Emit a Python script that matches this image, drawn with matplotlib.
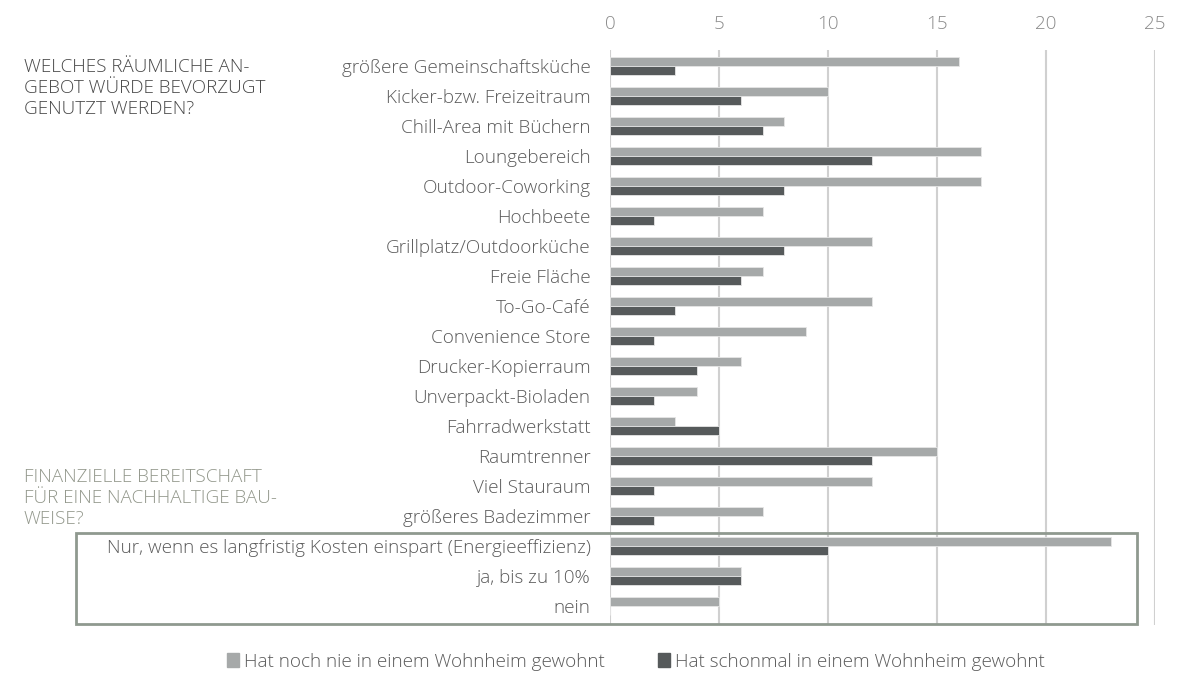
import matplotlib.pyplot as plt
from matplotlib.patches import Rectangle, Patch
import numpy as np

plt.rcParams['font.family'] = ['Open Sans', 'DejaVu Sans']
plt.rcParams['font.weight'] = 'light'

categories = [
    "größere Gemeinschaftsküche", "Kicker-bzw. Freizeitraum", "Chill-Area mit Büchern",
    "Loungebereich", "Outdoor-Coworking", "Hochbeete", "Grillplatz/Outdoorküche",
    "Freie Fläche", "To-Go-Café", "Convenience Store", "Drucker-Kopierraum",
    "Unverpackt-Bioladen", "Fahrradwerkstatt", "Raumtrenner", "Viel Stauraum",
    "größeres Badezimmer", "Nur, wenn es langfristig Kosten einspart (Energieeffizienz)",
    "ja, bis zu 10%", "nein",
]
nie_gewohnt = [16, 10, 8, 17, 17, 7, 12, 7, 12, 9, 6, 4, 3, 15, 12, 7, 23, 6, 5]
schon_gewohnt = [3, 6, 7, 12, 8, 2, 8, 6, 3, 2, 4, 2, 5, 12, 2, 2, 10, 6, 0]
xticks = [0, 5, 10, 15, 20, 25]

light = '#a6a9a9'
dark = '#565a5b'
W, H = 1183, 679
fs = 13.6

fig = plt.figure(figsize=(W / 100, H / 100), dpi=100)
ax = fig.add_axes([610 / W, 1 - 625 / H, 545 / W, 575 / H])

y = np.arange(len(categories))
h = 0.3
ax.barh(y - h / 2, nie_gewohnt, height=h, color=light, edgecolor='#e6e6e6', linewidth=0.6, zorder=3)
ax.barh(y + h / 2, schon_gewohnt, height=h, color=dark, edgecolor='#e6e6e6', linewidth=0.6, zorder=3)

ax.set_xlim(0, 25)
ax.set_ylim(18.63, -0.53)
ax.set_xticks(xticks)
ax.xaxis.tick_top()
ax.tick_params(axis='x', length=0, pad=12, labelsize=fs, labelcolor='#8a8a8a')
ax.set_yticks(y)
ax.set_yticklabels(categories)
ax.tick_params(axis='y', length=0, pad=14, labelsize=fs, labelcolor='#5a5a5a')
ax.grid(axis='x', color='#d0d0d0', linewidth=1.5, zorder=0)
for s in ax.spines.values():
    s.set_visible(False)

fig.text(24 / W, 1 - 58 / H,
         "WELCHES RÄUMLICHE AN-\nGEBOT WÜRDE BEVORZUGT\nGENUTZT WERDEN?",
         ha='left', va='top', fontsize=fs, color='#474747', linespacing=1.22)
fig.text(24 / W, 1 - 468 / H,
         "FINANZIELLE BEREITSCHAFT\nFÜR EINE NACHHALTIGE BAU-\nWEISE?",
         ha='left', va='top', fontsize=fs, color='#92978b', linespacing=1.22)

fig.patches.append(Rectangle((76 / W, 1 - 624 / H), (1137 - 76) / W, (624 - 533) / H,
                             transform=fig.transFigure, fill=False,
                             edgecolor='#8f998f', linewidth=2))

handles = [Patch(color=light, label='Hat noch nie in einem Wohnheim gewohnt'),
           Patch(color=dark, label='Hat schonmal in einem Wohnheim gewohnt')]
fig.legend(handles=handles, loc='center', bbox_to_anchor=(636 / W, 1 - 662 / H),
           ncol=2, frameon=False, fontsize=fs, handlelength=0.65, handleheight=0.75,
           handletextpad=0.25, columnspacing=2.8, labelcolor='#5a5a5a')

fig.savefig('out.png', dpi=100)
